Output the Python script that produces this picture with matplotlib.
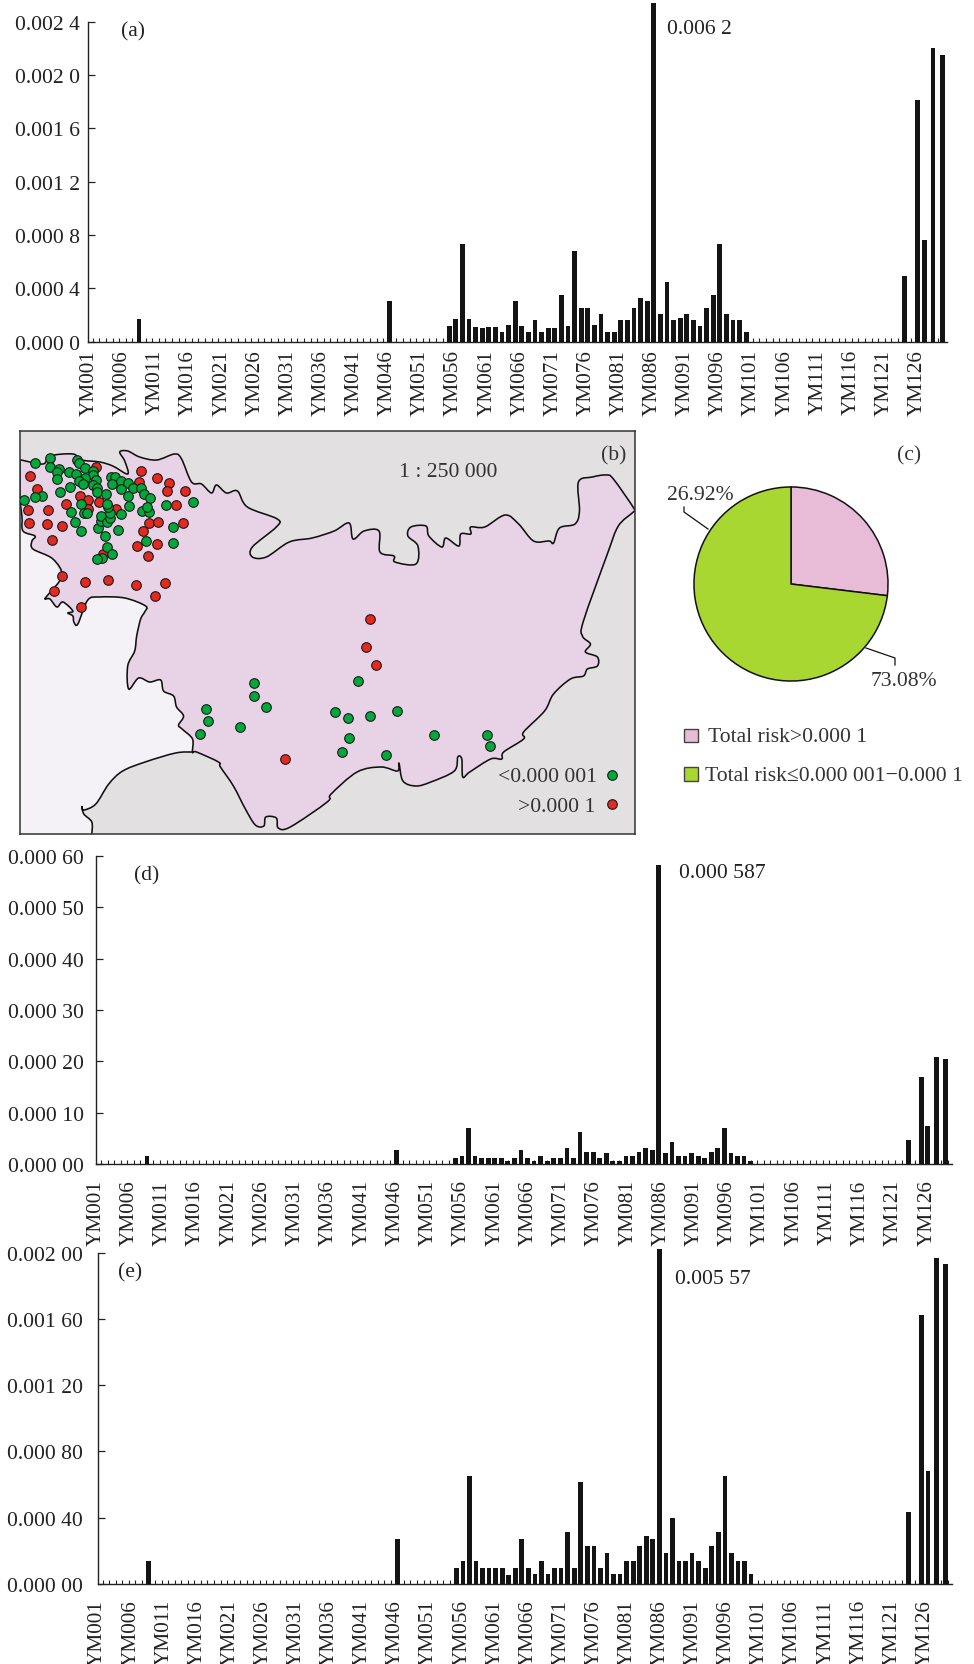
import numpy as np
import matplotlib
matplotlib.use('Agg')
import matplotlib.pyplot as plt
from matplotlib.patches import PathPatch, Polygon, Rectangle
from matplotlib.path import Path

plt.rcParams['font.family'] = ['Liberation Serif', 'DejaVu Serif']

W, H = 974, 1665
TXT = '#222222'
FS = 15.6

# --- bar data, values in units of 1e-5 ---
idx_low = [7, 45]
idx_mid = list(range(54, 100))
idx_end = [123, 125, 126, 127.3, 128.7]

a_low = [16.8, 30.7]
a_mid = [11.5, 17, 73, 17, 11, 10.5, 11, 11, 7, 12.5, 30.5, 11.5, 7, 16.5, 7, 10.5, 10.5, 35, 12, 68,
         25, 25, 12.5, 21, 7.5, 7.5, 16.5, 16.5, 25, 32.5, 30.5, 620, 21, 44.5, 16.5, 17.5, 21, 16.5,
         12, 25, 35, 73.5, 21, 16.5, 16.5, 7]
a_end = [49, 181.5, 76, 220, 215]

d_low = [1.55, 2.8]
d_mid = [1.2, 1.55, 7.1, 1.55, 1.2, 1.15, 1.2, 1.2, 0.65, 1.15, 2.8, 1.15, 0.65, 1.55, 0.6, 1.15, 1.15,
         3.25, 1.15, 6.35, 2.45, 2.45, 1.15, 2.15, 0.65, 0.7, 1.55, 1.55, 2.45, 3.1, 2.8, 58.2, 2.15,
         4.35, 1.55, 1.55, 2.15, 1.55, 1.15, 2.45, 3.25, 7.1, 2.15, 1.55, 1.55, 0.65]
d_end = [4.65, 17.0, 7.4, 20.9, 20.5]

e_low = [13.9, 27]
e_mid = [9.9, 13.9, 65.4, 13.9, 9.9, 9.9, 9.9, 9.9, 5.4, 9.9, 27.2, 9.9, 6, 13.9, 6, 9.9, 9.9, 31.2,
         9.9, 61.4, 22.9, 22.9, 9.9, 18.7, 6, 6, 13.9, 13.9, 22.9, 29, 27, 557, 18.7, 39.8, 13.9, 13.9,
         18.7, 13.9, 9.9, 22.9, 31.2, 65.2, 18.7, 13.9, 13.9, 5.8]
e_end = [43.7, 162.4, 68.4, 196.8, 193.2]

label_idx = list(range(0, 130, 5))
labels = ['YM%03d' % (i + 1) for i in label_idx]

a_ticks = [0, 0.0004, 0.0008, 0.0012, 0.0016, 0.0020, 0.0024]
a_ticklabels = ['0.000 0', '0.000 4', '0.000 8', '0.001 2', '0.001 6', '0.002 0', '0.002 4']
d_ticks = [0, 0.0001, 0.0002, 0.0003, 0.0004, 0.0005, 0.0006]
d_ticklabels = ['0.000 00', '0.000 10', '0.000 20', '0.000 30', '0.000 40', '0.000 50', '0.000 60']
e_ticks = [0, 0.0004, 0.0008, 0.0012, 0.0016, 0.0020]
e_ticklabels = ['0.000 00', '0.000 40', '0.000 80', '0.001 20', '0.001 60', '0.002 00']

# --- map data, pixel positions ---
coast = [(20, 460.7), (43, 465), (50, 457), (73, 455), (82, 461), (100, 463), (113, 467), (128, 475),
         (125, 462), (120, 453), (128, 452), (140, 458), (157, 461), (175, 455), (182, 460), (192, 483),
         (202, 485), (212, 494), (217, 486), (227, 494), (238, 492), (248, 508), (278, 520), (277, 528),
         (253, 548), (253, 558), (267, 558), (290, 543), (313, 539), (335, 532), (350, 524), (354, 540),
         (365, 532), (380, 532), (381, 553), (395, 557), (396, 563), (417, 565), (419, 547), (409, 537),
         (412, 528), (427, 527), (430, 537), (443, 548), (447, 539), (460, 547), (462, 535), (472, 535),
         (472, 528), (486, 528), (506.5, 516), (520, 525), (535, 542), (550.5, 542), (555, 544), (561, 529),
         (576.5, 525), (581, 512), (580, 483), (594, 478), (607.6, 476), (615, 480), (636, 510), (635, 513),
         (620, 527), (609, 555), (585, 622), (584, 637), (592, 645), (587, 653), (599, 658), (599, 667),
         (589, 670), (585, 677), (572, 680), (555, 695), (546, 712), (525, 733), (525, 740), (505, 753),
         (503, 760), (492, 760), (471, 773), (464, 778), (463, 760), (459, 758), (455.5, 772), (432, 783),
         (417, 787), (404, 782), (400, 764), (398.5, 772), (382, 768), (358, 773), (332, 795), (328, 803),
         (291, 828), (279, 829), (277, 819), (266.5, 818), (264.5, 827), (256, 826), (246, 810), (234, 787),
         (221, 768), (219, 763), (197, 753), (193, 753), (193, 740), (182.5, 730), (179, 726), (184, 717),
         (177, 708), (174, 697), (164, 692), (161, 681), (150, 683), (139, 679), (129, 690), (128, 667),
         (135, 652), (137, 637), (141, 620), (145, 613), (146, 607), (125, 599), (100, 598), (88, 601),
         (78, 625), (74, 623), (73, 617), (68, 614), (73, 612), (63, 603), (57, 608), (50, 600), (45, 600),
         (47, 597), (62, 577), (53, 560), (33, 550), (32, 542), (35, 537), (23, 532), (22, 518), (20, 502)]
south_shore = [(193, 753), (176, 754), (145.5, 763), (123, 772), (109, 785), (96, 805), (84, 811),
               (82, 807), (84, 815), (92, 823), (92, 835)]

# upper map sites as read in the crop, x/3 and 425+y/3
north_green = [(106, 116), (150, 103), (151, 130), (177, 135), (171, 143), (170, 165), (207, 144), (228, 150),
               (231, 107), (237, 118), (257, 132), (281, 140), (281, 153), (257, 161), (238, 172), (249, 181),
               (290, 168), (280, 183), (292, 192), (293, 204), (209, 189), (179, 204), (125, 215), (105, 220),
               (71, 228), (318, 211), (243, 240), (212, 264), (252, 268), (263, 268), (225, 295), (244, 320),
               (296, 313), (303, 291), (304, 276), (323, 293), (332, 282), (332, 268), (325, 250), (323, 240),
               (364, 271), (354, 318), (317, 336), (335, 158), (347, 160), (337, 180), (365, 172), (386, 176),
               (365, 195), (399, 192), (425, 193), (433, 209), (386, 216), (452, 222), (389, 247), (426, 262),
               (448, 264), (443, 250), (499, 242), (580, 235), (519, 308), (519, 356), (439, 351), (322, 370),
               (338, 391), (307, 403), (291, 406)]
north_red = [(289, 128), (424, 141), (91, 155), (472, 162), (507, 178), (501, 200), (557, 200), (417, 175),
             (110, 195), (242, 215), (264, 227), (297, 234), (199, 240), (349, 254), (264, 256), (83, 258),
             (143, 258), (529, 244), (86, 297), (142, 301), (185, 305), (447, 296), (476, 294), (550, 297),
             (431, 321), (156, 349), (411, 366), (473, 359), (444, 395), (310, 390), (185, 456), (255, 473),
             (324, 468), (409, 484), (496, 478), (466, 515), (163, 502), (243, 548)]
# lower map sites, already in pixels
south_green = [(255, 684), (255, 697), (266.5, 708), (207, 710), (209, 722), (241, 728), (200, 735), (359, 682),
               (336, 713), (349, 719), (371, 717), (398, 712), (350, 739), (343, 753), (387, 756), (435, 736),
               (488, 736), (491, 747), (613.4, 775.7)]
south_red = [(371, 620), (366.5, 648), (377, 666), (286, 760), (613.4, 805)]

pie_sizes = [26.92, 73.08]
pie_colors = ['#e8bbd6', '#a8d732']


def px_axes(left, top, right, bottom):
    return fig.add_axes([left / W, 1 - bottom / H, (right - left) / W, (bottom - top) / H])


def bar_panel(box, x0, dx, ymax, ybound, low, mid, end, ticks, ticklabels, lab_k, lab_b, pad_x, pad_y):
    left, top, right, bottom = box
    ax = px_axes(left, top, right, bottom)
    xs = idx_low + idx_mid + idx_end
    ys = np.array(low + mid + end) * 1e-5
    ax.bar(xs, ys, width=0.72, color='#141414', linewidth=0, zorder=3)
    ax.set_xlim((left - x0) / dx, (right - x0) / dx)
    ax.set_ylim(0, ymax)
    ax.set_yticks(ticks)
    ax.set_yticklabels(ticklabels, fontsize=FS, color=TXT)
    ax.tick_params(axis='y', direction='in', length=5, width=0.9, color=TXT, pad=pad_y)
    # labels sit on a slightly wider pitch than the samples
    ax.set_xticks([lab_k * i + lab_b for i in label_idx])
    ax.set_xticklabels(labels, rotation=90, fontsize=15.3, color=TXT)
    ax.tick_params(axis='x', which='major', length=0, pad=pad_x)
    ax.set_xticks(np.arange(0, 130), minor=True)
    ax.tick_params(axis='x', which='minor', direction='in', length=2.6, width=0.8, color=TXT)
    ax.spines['top'].set_visible(False)
    ax.spines['right'].set_visible(False)
    ax.spines['left'].set_bounds(0, ybound)
    for s in ['left', 'bottom']:
        ax.spines[s].set_linewidth(1.0)
        ax.spines[s].set_color(TXT)
    ax.patch.set_alpha(0)
    return ax


def smooth_path(pts, closed=False):
    # Catmull-Rom through the read points, written as Bezier segments
    p = np.array(pts, dtype=float)
    n = len(p)
    verts = [p[0]]
    codes = [Path.MOVETO]
    for i in range(n - 1):
        p0 = p[max(i - 1, 0)]
        p1, p2 = p[i], p[i + 1]
        p3 = p[min(i + 2, n - 1)]
        verts += [p1 + (p2 - p0) / 6, p2 - (p3 - p1) / 6, p2]
        codes += [Path.CURVE4] * 3
    if closed:
        verts.append(p[0])
        codes.append(Path.CLOSEPOLY)
    return Path(verts, codes)


fig = plt.figure(figsize=(W / 100, H / 100), dpi=100, facecolor='white')

bar_panel((88, 4, 947, 342.7), 92.8, 6.6, (342.7 - 4) / 320 * 0.0024, 0.0024,
          a_low, a_mid, a_end, a_ticks, a_ticklabels, 1.0036, -0.53, 5.3, 5.8)
bar_panel((96, 856.7, 951.7, 1165.3), 100, 6.57, 0.0006, 0.0006,
          d_low, d_mid, d_end, d_ticks, d_ticklabels, 1.0128, -0.76, 10.8, 8.6)
bar_panel((97.7, 1250.3, 952.3, 1585), 100, 6.57, (1585 - 1250.3) / 331.3 * 0.002, 0.002,
          e_low, e_mid, e_end, e_ticks, e_ticklabels, 1.0106, -0.76, 10.8, 10.5)

# --- map (b) ---
mp = px_axes(20, 432, 635.3, 835)
mp.set_xlim(20, 637)
mp.set_ylim(835, 432)
mp.set_facecolor('#e2e0e1')
lowland = coast[coast.index((193, 753)):] + [(20, 835)] + south_shore[::-1]
mp.add_patch(Polygon(lowland, closed=True, facecolor='#f4f1f7', edgecolor='none', zorder=1))
mp.add_patch(PathPatch(smooth_path(coast, closed=True), facecolor='#e8d2e6', edgecolor='#111111',
                       linewidth=1.15, zorder=2))
mp.add_patch(PathPatch(smooth_path(south_shore), facecolor='none', edgecolor='#111111',
                       linewidth=1.15, zorder=2))
gx = [p[0] / 3 for p in north_green] + [p[0] for p in south_green]
gy = [425 + p[1] / 3 for p in north_green] + [p[1] for p in south_green]
rx = [p[0] / 3 for p in north_red] + [p[0] for p in south_red]
ry = [425 + p[1] / 3 for p in north_red] + [p[1] for p in south_red]
mp.scatter(rx, ry, s=48, color='#e5291f', edgecolor='#1a1a1a', linewidth=0.8, zorder=3)
mp.scatter(gx, gy, s=48, color='#00a93a', edgecolor='#1a1a1a', linewidth=0.8, zorder=4)
mp.set_xticks([])
mp.set_yticks([])
for s in mp.spines.values():
    s.set_linewidth(1.1)
    s.set_color('#333333')

# --- pie (c) ---
pie_ax = px_axes(693, 487, 889, 683)
pie_ax.pie(pie_sizes, colors=pie_colors, startangle=90, counterclock=False, radius=1,
           wedgeprops={'edgecolor': '#111111', 'linewidth': 1.1})
pie_ax.set_xlim(-1.01, 1.01)
pie_ax.set_ylim(-1.01, 1.01)

# --- annotations, in figure pixels ---
ov = px_axes(0, 0, W, H)
ov.set_xlim(0, W)
ov.set_ylim(H, 0)
ov.axis('off')
ov.patch.set_alpha(0)


def put(x, y, s, ha='left', color=TXT):
    ov.text(x, y, s, fontsize=FS, color=color, ha=ha, va='center')


put(121, 32, '(a)')
put(667, 29, '0.006 2')
put(134, 876, '(d)')
put(679, 874, '0.000 587')
put(118, 1273, '(e)')
put(675, 1280, '0.005 57')
put(613.5, 456, '(b)', ha='center', color='#333333')
put(448, 473, '1 : 250 000', ha='center', color='#333333')
put(597.3, 778, '<0.000 001', ha='right', color='#333333')
put(595, 808, '>0.000 1', ha='right', color='#333333')
put(909, 456, '(c)', ha='center', color='#333333')
put(700, 496, '26.92%', ha='center', color='#333333')
put(904, 682, '73.08%', ha='center', color='#333333')
ov.plot([708, 684, 684], [530, 513, 508], color='#111111', lw=0.9)
ov.plot([866, 895, 895], [649, 659, 666], color='#111111', lw=0.9)
ov.add_patch(Rectangle((683.5, 729.5), 14, 13, facecolor=pie_colors[0], edgecolor='#444444', lw=1.0))
ov.add_patch(Rectangle((683.5, 768), 14, 14, facecolor=pie_colors[1], edgecolor='#444444', lw=1.0))
put(708, 738, 'Total risk>0.000 1', color='#333333')
put(704.6, 777, 'Total risk≤0.000 001−0.000 1', color='#333333')

fig.savefig('out.png', dpi=100)
